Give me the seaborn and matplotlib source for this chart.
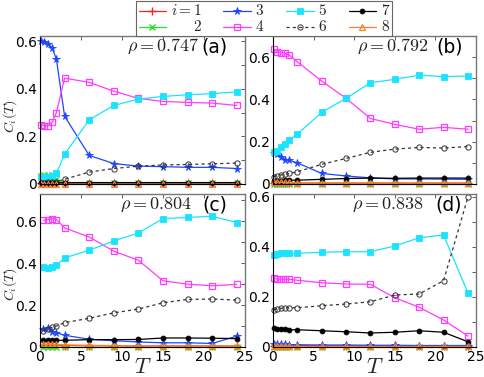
import numpy as np
import matplotlib
matplotlib.use("Agg")
import matplotlib.pyplot as plt
import seaborn as sns
from matplotlib.ticker import MultipleLocator, FuncFormatter

sns.set_theme(style="white")
plt.rcParams['font.family'] = ['DejaVu Sans']
plt.rcParams['mathtext.fontset'] = 'cm'

# ---- data ----
T = [0.1, 0.5, 1.0, 1.5, 2.0, 3, 6, 9, 12, 15, 18, 21, 24]
T_c = [0.4, 1.0, 1.5, 2.0, 3, 6, 9, 12, 15, 18, 21, 24]

rho_labels = ["0.747", "0.792", "0.804", "0.838"]
panel_tags = ["(a)", "(b)", "(c)", "(d)"]
series_labels = [r"$i=1$", r"$\quad\ \ 2$", r"$3$", r"$4$", r"$5$", r"$6$", r"$7$", r"$8$"]

a1 = [0.004, 0.004, 0.004, 0.004, 0.004, 0.003, 0.003, 0.003, 0.003, 0.003, 0.003, 0.003, 0.003]
a2 = [0.035, 0.037, 0.037, 0.036, 0.02, 0.006, 0.005, 0.005, 0.005, 0.005, 0.005, 0.005, 0.005]
a3 = [0.6, 0.597, 0.59, 0.57, 0.525, 0.285, 0.12, 0.086, 0.075, 0.073, 0.07, 0.07, 0.065]
a4 = [0.25, 0.245, 0.245, 0.26, 0.3, 0.445, 0.427, 0.39, 0.36, 0.347, 0.343, 0.34, 0.33]
a5 = [0.03, 0.03, 0.03, 0.032, 0.045, 0.125, 0.27, 0.33, 0.357, 0.368, 0.375, 0.38, 0.387]
a6 = [0.005, 0.005, 0.007, 0.008, 0.01, 0.02, 0.05, 0.065, 0.075, 0.08, 0.082, 0.085, 0.088]
a7 = [0.005, 0.005, 0.005, 0.005, 0.005, 0.006, 0.006, 0.006, 0.006, 0.006, 0.006, 0.006, 0.006]
a8 = [0.002, 0.002, 0.002, 0.002, 0.002, 0.002, 0.002, 0.002, 0.002, 0.002, 0.002, 0.002, 0.002]

b1 = [0.005, 0.005, 0.005, 0.005, 0.005, 0.005, 0.004, 0.004, 0.004, 0.004, 0.004, 0.004, 0.004]
b2 = [0.001, 0.001, 0.001, 0.001, 0.001, 0.001, 0.001, 0.001, 0.001, 0.001, 0.001, 0.001, 0.001]
b3 = [0.148, 0.142, 0.129, 0.114, 0.112, 0.1, 0.05, 0.038, 0.029, 0.024, 0.024, 0.023, 0.022]
b4 = [0.638, 0.626, 0.621, 0.618, 0.61, 0.578, 0.487, 0.405, 0.31, 0.282, 0.259, 0.268, 0.259]
b5 = [0.153, 0.155, 0.173, 0.189, 0.208, 0.236, 0.339, 0.405, 0.479, 0.495, 0.515, 0.508, 0.511]
b6 = [0.035, 0.039, 0.043, 0.046, 0.05, 0.058, 0.093, 0.121, 0.15, 0.165, 0.173, 0.17, 0.177]
b7 = [0.014, 0.015, 0.016, 0.017, 0.018, 0.018, 0.022, 0.026, 0.028, 0.027, 0.028, 0.028, 0.028]
b8 = [0.008, 0.008, 0.008, 0.008, 0.008, 0.006, 0.005, 0.005, 0.005, 0.005, 0.005, 0.005, 0.005]

c1 = [0.008, 0.008, 0.008, 0.008, 0.007, 0.006, 0.005, 0.005, 0.005, 0.005, 0.005, 0.005]
c2 = [0.001, 0.001, 0.001, 0.001, 0.001, 0.001, 0.001, 0.001, 0.001, 0.001, 0.001, 0.001]
c3 = [0.084, 0.089, 0.073, 0.068, 0.056, 0.037, 0.03, 0.024, 0.02, 0.02, 0.017, 0.052]
c4 = [0.605, 0.608, 0.613, 0.608, 0.568, 0.525, 0.457, 0.414, 0.316, 0.3, 0.292, 0.299]
c5 = [0.384, 0.375, 0.384, 0.39, 0.425, 0.462, 0.506, 0.544, 0.613, 0.618, 0.624, 0.594]
c6 = [0.078, 0.084, 0.097, 0.1, 0.116, 0.137, 0.163, 0.181, 0.211, 0.227, 0.229, 0.224]
c7 = [0.032, 0.032, 0.032, 0.032, 0.032, 0.035, 0.035, 0.036, 0.043, 0.043, 0.042, 0.04]
c8 = [0.014, 0.014, 0.013, 0.012, 0.01, 0.008, 0.007, 0.006, 0.005, 0.005, 0.005, 0.005]

d1 = [0.006, 0.006, 0.006, 0.006, 0.006, 0.006, 0.005, 0.005, 0.005, 0.005, 0.005, 0.005, 0.005]
d2 = [0.001, 0.001, 0.001, 0.001, 0.001, 0.001, 0.001, 0.001, 0.001, 0.001, 0.001, 0.001, 0.001]
d3 = [0.012, 0.012, 0.012, 0.011, 0.01, 0.009, 0.008, 0.008, 0.007, 0.007, 0.006, 0.006, 0.006]
d4 = [0.275, 0.271, 0.271, 0.271, 0.271, 0.267, 0.257, 0.252, 0.251, 0.197, 0.159, 0.108, 0.044]
d5 = [0.368, 0.371, 0.375, 0.375, 0.375, 0.375, 0.379, 0.381, 0.381, 0.404, 0.437, 0.448, 0.217]
d6 = [0.148, 0.153, 0.155, 0.156, 0.157, 0.157, 0.165, 0.172, 0.181, 0.208, 0.212, 0.265, 0.599]
d7 = [0.075, 0.074, 0.072, 0.071, 0.069, 0.069, 0.065, 0.061, 0.056, 0.059, 0.065, 0.059, 0.021]
d8 = [0.003, 0.003, 0.003, 0.003, 0.003, 0.003, 0.003, 0.003, 0.003, 0.003, 0.003, 0.003, 0.003]

panels = [
    (T, [a1, a2, a3, a4, a5, a6, a7, a8]),
    (T, [b1, b2, b3, b4, b5, b6, b7, b8]),
    (T_c, [c1, c2, c3, c4, c5, c6, c7, c8]),
    (T, [d1, d2, d3, d4, d5, d6, d7, d8]),
]
ylims = [0.622, 0.70, 0.73, 0.612]

# ---- styles ----
styles = [
    dict(color="#ff2020", marker="+", mfc="#ff2020", ls="-", ms=6, mew=1.0),
    dict(color="#22e022", marker="x", mfc="#22e022", ls="-", ms=4.5, mew=1.0),
    dict(color="#1f45ff", marker="*", mfc="#1f45ff", ls="-", ms=5.5, mew=0.6),
    dict(color="#ff3cff", marker="s", mfc="none", ls="-", ms=4.5, mew=0.9),
    dict(color="#19e3ff", marker="s", mfc="#19e3ff", ls="-", ms=4.0, mew=0.6),
    dict(color="#333333", marker="o", mfc="none", ls=(0, (2.5, 2.5)), ms=3.8, mew=0.7),
    dict(color="#000000", marker="o", mfc="#000000", ls="-", ms=3.5, mew=0.6),
    dict(color="#ff7f2a", marker="^", mfc="none", ls="-", ms=4.5, mew=0.9),
]

W, H = 485, 377
fig = plt.figure(figsize=(W / 100, H / 100), dpi=100)
rects = [
    (40 / W, 1 - 184 / H, 205 / W, 148 / H),
    (273 / W, 1 - 184 / H, 203 / W, 148 / H),
    (40 / W, 1 - 347 / H, 205 / W, 153 / H),
    (273 / W, 1 - 347 / H, 203 / W, 153 / H),
]
rho_x = [0.776, 0.77, 0.741, 0.745]
tag_x = [0.851, 0.868, 0.851, 0.863]
ylab_y = [0.46, None, 0.41, None]

fmt = FuncFormatter(lambda v, p: "0" if abs(v) < 1e-9 else f"{v:.1f}")
handles = []
for k, (rect, (tx, series)) in enumerate(zip(rects, panels)):
    ax = fig.add_axes(rect)
    for s, st, lab in zip(series, styles, series_labels):
        sns.lineplot(x=tx, y=s, ax=ax, color=st["color"], marker=st["marker"],
                     markerfacecolor=st["mfc"], markeredgecolor=st["color"],
                     linestyle=st["ls"], markersize=st["ms"], markeredgewidth=st["mew"],
                     linewidth=0.9, clip_on=False, label=lab, legend=False,
                     estimator=None, sort=False)
    if k == 0:
        handles = ax.get_lines()
    ax.set_xlim(0, 25)
    ax.set_ylim(0, ylims[k])
    ax.xaxis.set_major_locator(MultipleLocator(5))
    ax.yaxis.set_major_locator(MultipleLocator(0.2))
    ax.yaxis.set_minor_locator(MultipleLocator(0.1))
    ax.yaxis.set_major_formatter(fmt)
    ax.tick_params(direction="in", which="both", top=True, right=True,
                   labelsize=10, length=3, width=0.6, pad=2, colors="#444444",
                   labelcolor="black")
    for side in ["left", "bottom"]:
        ax.spines[side].set_color("black")
        ax.spines[side].set_linewidth(0.8)
    for side in ["top", "right"]:
        ax.spines[side].set_color("#777777")
        ax.spines[side].set_linewidth(1.0)
    if k < 2:
        ax.set_xticklabels([])
    else:
        ax.set_xlabel(r"$T$", fontsize=16, va="center")
        ax.xaxis.set_label_coords(0.5, -0.13)
    if k % 2 == 0:
        ax.set_ylabel(r"$C_i(T)$", fontsize=10, va="center")
        ax.yaxis.set_label_coords(-0.145, ylab_y[k])
    ax.text(rho_x[k], 0.93, r"$\rho = " + rho_labels[k] + "$", transform=ax.transAxes,
            ha="right", va="center", fontsize=13, color="#222222")
    ax.text(tag_x[k], 0.925, panel_tags[k], transform=ax.transAxes,
            ha="center", va="center", fontsize=13.5, color="black")

leg = fig.legend(handles, series_labels, ncol=4, loc="upper center",
                 bbox_to_anchor=(0.545, 0.997), fontsize=11, frameon=True,
                 fancybox=False, edgecolor="#666666", framealpha=1,
                 handlelength=1.8, handleheight=0.4, handletextpad=0.3,
                 columnspacing=1.4, labelspacing=0.05, borderpad=0.15,
                 borderaxespad=0.0)
leg.get_frame().set_linewidth(0.8)

fig.savefig("out.png", dpi=100)
